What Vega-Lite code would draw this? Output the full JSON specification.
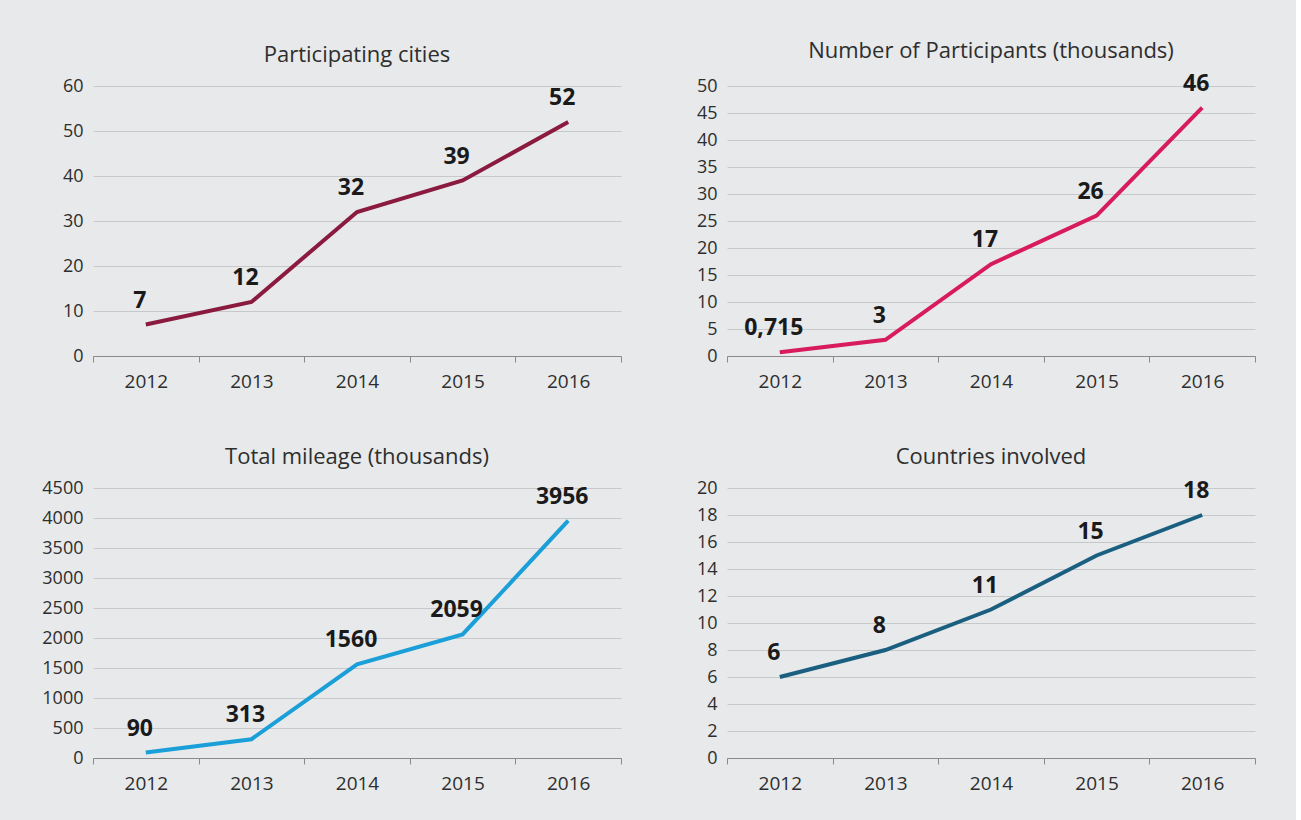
{
  "$schema": "https://vega.github.io/schema/vega-lite/v6.json",
  "background": "#e7e9eb",
  "padding": {"left": 41, "top": 39, "right": 40, "bottom": 40},
  "datasets": {
    "cities": [
      {"year": "2012", "value": 7, "label": "7"},
      {"year": "2013", "value": 12, "label": "12"},
      {"year": "2014", "value": 32, "label": "32"},
      {"year": "2015", "value": 39, "label": "39"},
      {"year": "2016", "value": 52, "label": "52"}
    ],
    "participants": [
      {"year": "2012", "value": 0.715, "label": "0,715"},
      {"year": "2013", "value": 3, "label": "3"},
      {"year": "2014", "value": 17, "label": "17"},
      {"year": "2015", "value": 26, "label": "26"},
      {"year": "2016", "value": 46, "label": "46"}
    ],
    "mileage": [
      {"year": "2012", "value": 90, "label": "90"},
      {"year": "2013", "value": 313, "label": "313"},
      {"year": "2014", "value": 1560, "label": "1560"},
      {"year": "2015", "value": 2059, "label": "2059"},
      {"year": "2016", "value": 3956, "label": "3956"}
    ],
    "countries": [
      {"year": "2012", "value": 6, "label": "6"},
      {"year": "2013", "value": 8, "label": "8"},
      {"year": "2014", "value": 11, "label": "11"},
      {"year": "2015", "value": 15, "label": "15"},
      {"year": "2016", "value": 18, "label": "18"}
    ]
  },
  "config": {
    "font": "Open Sans",
    "view": {"stroke": null},
    "title": {"fontSize": 22, "fontWeight": "normal", "color": "#2e2e2e", "anchor": "middle", "frame": "group", "offset": 10},
    "axisX": {"title": null, "labelAngle": 0, "labelFontSize": 19, "labelColor": "#2e2e2e", "domainColor": "#8a8a8a", "tickColor": "#8a8a8a", "tickSize": 6, "labelPadding": 10, "grid": false, "tickBand": "extent"},
    "axisY": {"title": null, "grid": true, "gridColor": "#c6c8ca", "domain": false, "ticks": false, "labelPadding": 10, "labelFontSize": 18, "labelColor": "#2e2e2e", "format": "d"}
  },
  "columns": 2,
  "bounds": "flush",
  "spacing": {"row": 132, "column": 106},
  "concat": [
    {
      "title": "Participating cities",
      "width": 528, "height": 270,
      "data": {"name": "cities"},
      "encoding": {
        "x": {"field": "year", "type": "ordinal", "bandPosition": 0.5, "scale": {"type": "band", "paddingInner": 0, "paddingOuter": 0}},
        "y": {"field": "value", "type": "quantitative", "scale": {"domain": [0, 60], "nice": false}, "axis": {"values": [0, 10, 20, 30, 40, 50, 60]}}
      },
      "layer": [
        {"mark": {"type": "line", "color": "#8b1a3f", "strokeWidth": 4}},
        {"mark": {"type": "text", "fontSize": 23, "fontWeight": "bold", "color": "#1a1a1a", "dy": -24, "dx": -6}, "encoding": {"text": {"field": "label"}}}
      ]
    },
    {
      "title": "Number of Participants (thousands)",
      "width": 528, "height": 270,
      "data": {"name": "participants"},
      "encoding": {
        "x": {"field": "year", "type": "ordinal", "bandPosition": 0.5, "scale": {"type": "band", "paddingInner": 0, "paddingOuter": 0}},
        "y": {"field": "value", "type": "quantitative", "scale": {"domain": [0, 50], "nice": false}, "axis": {"values": [0, 5, 10, 15, 20, 25, 30, 35, 40, 45, 50]}}
      },
      "layer": [
        {"mark": {"type": "line", "color": "#d81b5a", "strokeWidth": 4}},
        {"mark": {"type": "text", "fontSize": 23, "fontWeight": "bold", "color": "#1a1a1a", "dy": -24, "dx": -6}, "encoding": {"text": {"field": "label"}}}
      ]
    },
    {
      "title": "Total mileage (thousands)",
      "width": 528, "height": 270,
      "data": {"name": "mileage"},
      "encoding": {
        "x": {"field": "year", "type": "ordinal", "bandPosition": 0.5, "scale": {"type": "band", "paddingInner": 0, "paddingOuter": 0}},
        "y": {"field": "value", "type": "quantitative", "scale": {"domain": [0, 4500], "nice": false}, "axis": {"values": [0, 500, 1000, 1500, 2000, 2500, 3000, 3500, 4000, 4500]}}
      },
      "layer": [
        {"mark": {"type": "line", "color": "#1a9fd8", "strokeWidth": 4}},
        {"mark": {"type": "text", "fontSize": 23, "fontWeight": "bold", "color": "#1a1a1a", "dy": -24, "dx": -6}, "encoding": {"text": {"field": "label"}}}
      ]
    },
    {
      "title": "Countries involved",
      "width": 528, "height": 270,
      "data": {"name": "countries"},
      "encoding": {
        "x": {"field": "year", "type": "ordinal", "bandPosition": 0.5, "scale": {"type": "band", "paddingInner": 0, "paddingOuter": 0}},
        "y": {"field": "value", "type": "quantitative", "scale": {"domain": [0, 20], "nice": false}, "axis": {"values": [0, 2, 4, 6, 8, 10, 12, 14, 16, 18, 20]}}
      },
      "layer": [
        {"mark": {"type": "line", "color": "#1b5f80", "strokeWidth": 4}},
        {"mark": {"type": "text", "fontSize": 23, "fontWeight": "bold", "color": "#1a1a1a", "dy": -24, "dx": -6}, "encoding": {"text": {"field": "label"}}}
      ]
    }
  ]
}
